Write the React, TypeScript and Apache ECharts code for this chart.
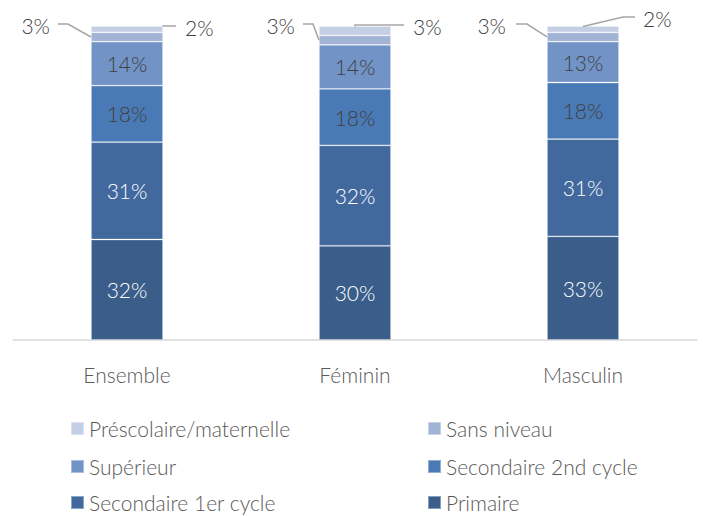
import React, { useEffect, useRef } from "react";
import * as echarts from "echarts";

const categories = ["Ensemble", "Féminin", "Masculin"];
const seriesNames = [
  "Primaire",
  "Secondaire 1er cycle",
  "Secondaire 2nd cycle",
  "Supérieur",
  "Sans niveau",
  "Préscolaire/maternelle",
];
const primaire = [32, 30, 33];
const secondaire1 = [31, 32, 31];
const secondaire2 = [18, 18, 18];
const superieur = [14, 14, 13];
const sansNiveau = [3, 3, 3];
const prescolaire = [2, 3, 2];

// legend reading order: two columns, three rows
const legendOrder = [
  "Préscolaire/maternelle",
  "Sans niveau",
  "Supérieur",
  "Secondaire 2nd cycle",
  "Secondaire 1er cycle",
  "Primaire",
];

const seriesValues = [primaire, secondaire1, secondaire2, superieur, sansNiveau, prescolaire];
const colors = ["#3A5D8A", "#42699E", "#4A7AB5", "#7193C6", "#A2B4D6", "#C4CEE4"];
const insideLabelColors = ["#FFFFFF", "#FFFFFF", "#3F3F3F", "#3F3F3F", null, null];

const FONT = 'Lato, "Open Sans", sans-serif';
const BAR_FRACTION = 0.316;

// callout (leader line) layout, in pixels relative to the bar geometry
const leftCallout = [
  { bend: 23, run: 10, gap: 8, lift: 2 },
  { bend: 6, run: 10, gap: 8, lift: 2 },
  { bend: 20, run: 11, gap: 10, lift: 2 },
];
const rightCallout = [
  { fromCenter: false, bend: 0, run: 13, gap: 9, lift: 0 },
  { fromCenter: true, bend: 0, run: 49, gap: 9, lift: 1 },
  { fromCenter: true, bend: 40, run: 12, gap: 8, lift: 9 },
];

const legendColumnsLeft = [70, 427];
const legendRowsTop = [418, 456, 492];

export default function App() {
  const ref = useRef<HTMLDivElement>(null);

  useEffect(() => {
    document.body.style.margin = "0";
    const chart = echarts.init(ref.current!, undefined, { renderer: "svg" });

    const barSeries = seriesNames.map((name, si) => ({
      name,
      type: "bar",
      stack: "total",
      barWidth: BAR_FRACTION * 100 + "%",
      data: seriesValues[si],
      itemStyle: {
        color: colors[si],
        borderColor: "rgba(255,255,255,0.4)",
        borderWidth: 0.8,
      },
      label: insideLabelColors[si]
        ? {
            show: true,
            position: "inside",
            formatter: "{c}%",
            color: insideLabelColors[si],
            fontFamily: FONT,
            fontSize: 21,
            fontWeight: 300,
          }
        : { show: false },
      emphasis: { disabled: true },
    }));

    const calloutSeries = {
      type: "custom",
      name: "callouts",
      silent: true,
      z: 10,
      data: categories.map((_, i) => [i, 0]),
      renderItem: (params: any, api: any) => {
        const idx = api.value(0);
        const lower4 =
          primaire[idx] + secondaire1[idx] + secondaire2[idx] + superieur[idx];
        const sansMid = lower4 + sansNiveau[idx] / 2;
        const total = lower4 + sansNiveau[idx] + prescolaire[idx];
        const cx = api.coord([idx, 0])[0];
        const halfW = (api.size([1, 0])[0] * BAR_FRACTION) / 2;
        const topY = api.coord([idx, total])[1];
        const sansY = api.coord([idx, sansMid])[1];

        const L = leftCallout[idx];
        const lx0 = cx - halfW;
        const lyLine = topY - L.lift;
        const lBendX = lx0 - L.bend;
        const lEndX = lBendX - L.run;

        const R = rightCallout[idx];
        const rx0 = R.fromCenter ? cx : cx + halfW;
        const ry0 = topY + 0.5;
        const ryLine = topY - R.lift;
        const rBendX = rx0 + R.bend;
        const rEndX = rBendX + R.run;

        const lineStyle = { stroke: "#A6A6A6", lineWidth: 1.5, fill: null };
        const textStyle = {
          fill: "#404040",
          fontFamily: FONT,
          fontSize: 21,
          fontWeight: 300,
          verticalAlign: "middle",
        };
        return {
          type: "group",
          children: [
            {
              type: "polyline",
              shape: { points: [[lx0, sansY], [lBendX, lyLine], [lEndX, lyLine]] },
              style: lineStyle,
            },
            {
              type: "text",
              x: lEndX - L.gap,
              y: lyLine + 1.5,
              style: { ...textStyle, text: sansNiveau[idx] + "%", align: "right" },
            },
            {
              type: "polyline",
              shape: { points: [[rx0, ry0], [rBendX, ryLine], [rEndX, ryLine]] },
              style: lineStyle,
            },
            {
              type: "text",
              x: rEndX + R.gap,
              y: ryLine + 1.5,
              style: { ...textStyle, text: prescolaire[idx] + "%", align: "left" },
            },
          ],
        };
      },
    };

    const legends = legendOrder.map((name, i) => ({
      orient: "horizontal",
      icon: "rect",
      itemWidth: 13,
      itemHeight: 13,
      selectedMode: false,
      left: legendColumnsLeft[i % 2],
      top: legendRowsTop[Math.floor(i / 2)],
      padding: 0,
      data: [name],
      textStyle: {
        color: "#595959",
        fontFamily: FONT,
        fontSize: 21,
        fontWeight: 300,
        lineHeight: 20,
      },
    }));

    chart.setOption({
      animation: false,
      color: colors,
      grid: { left: 13, right: 6, top: 26, bottom: 176, containLabel: false },
      xAxis: {
        type: "category",
        data: categories,
        axisTick: { show: false },
        axisLine: { lineStyle: { color: "#D9D9D9", width: 1.5 } },
        axisLabel: {
          color: "#595959",
          fontFamily: FONT,
          fontSize: 21,
          fontWeight: 300,
          margin: 24,
        },
      },
      yAxis: { type: "value", min: 0, max: 100, show: false },
      legend: legends,
      series: [...barSeries, calloutSeries],
    });

    return () => chart.dispose();
  }, []);

  return <div ref={ref} style={{ width: 703, height: 516 }} />;
}
